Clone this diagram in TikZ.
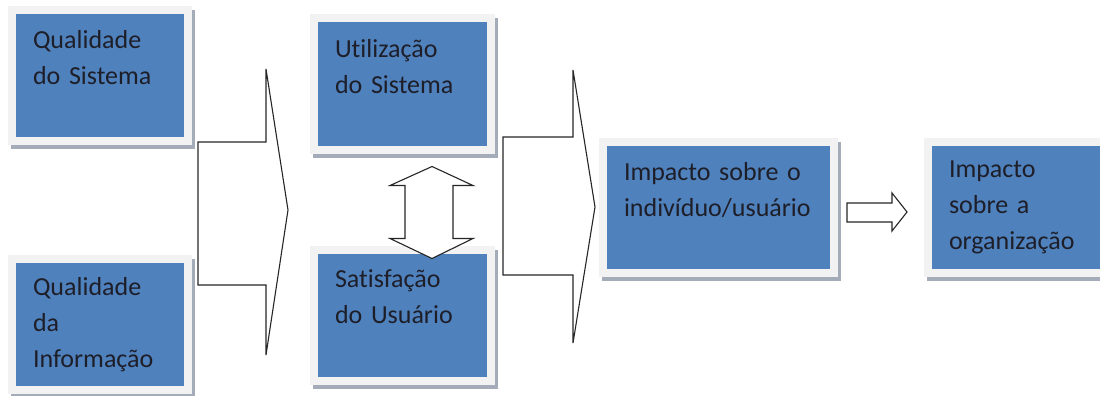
\documentclass[tikz,border=0pt]{standalone}
\usepackage{fontspec}
\setmainfont{Carlito}[Ligatures=NoCommon]

\definecolor{boxblue}{HTML}{4F81BD}
\definecolor{framegray}{HTML}{F2F2F2}
\definecolor{shadegray}{HTML}{A3ACB8}
\definecolor{txtdark}{HTML}{1E1E28}

\tikzset{
  blk/.style={fill=boxblue, draw=framegray, line width=8pt, minimum height=131pt,
    inner xsep=21pt, inner ysep=0pt, align=left, text=txtdark,
    font=\fontsize{26}{36}\selectfont,
    preaction={draw=shadegray, line width=8pt, transform canvas={shift={(3pt,-4pt)}}}},
  blkarrow/.style={fill=white, draw=black!85, line width=1.1pt}
}

\begin{document}
\begin{tikzpicture}[x=1pt,y=-1pt]
    \useasboundingbox (0,0) rectangle (1100,396);

    % big arrows
    \draw[blkarrow] (198,142) -- (266,142) -- (266,69) -- (288,210) -- (266,355) -- (266,285) -- (198,285) -- cycle;
    \draw[blkarrow] (503,137) -- (573,137) -- (573,70) -- (595,207) -- (573,343) -- (573,275) -- (503,275) -- cycle;

    \node[blk, text width=134pt] (qs) at (100,75.5) {Qualidade\\do Sistema\\~};
    \node[blk, text width=134pt] (qi) at (100,324.5) {Qualidade\\da\\Informação};
    \node[blk, text width=135pt] (us) at (402.5,84) {Utilização\\do Sistema\\~};
    \node[blk, text width=135pt] (su) at (402.5,315) {Satisfação\\do Usuário\\~};
    \node[blk, text width=189pt] (ii) at (718.5,207) {Impacto sobre o\\indivíduo/usuário\\~};
    \node[blk, text width=134pt] (io) at (1016,207) {Impacto\\sobre a\\organização};

    % us <-> su
    \draw[blkarrow] ([xshift=29.5pt,yshift=-13pt]us.south) -- ++(41,19) -- ++(-20,0) -- ++(0,53) -- ++(20,0)
        -- ++(-41,20) -- ++(-42,-20) -- ++(15,0) -- ++(0,-53) -- ++(-15,0) -- cycle;
    % ii -> io
    \draw[blkarrow] ([xshift=9pt,yshift=4pt]ii.east) -- ++(45,0) -- ++(0,-10) -- ++(15,19)
        -- ++(-15,19) -- ++(0,-9) -- ++(-45,0) -- cycle;

\end{tikzpicture}
\end{document}
